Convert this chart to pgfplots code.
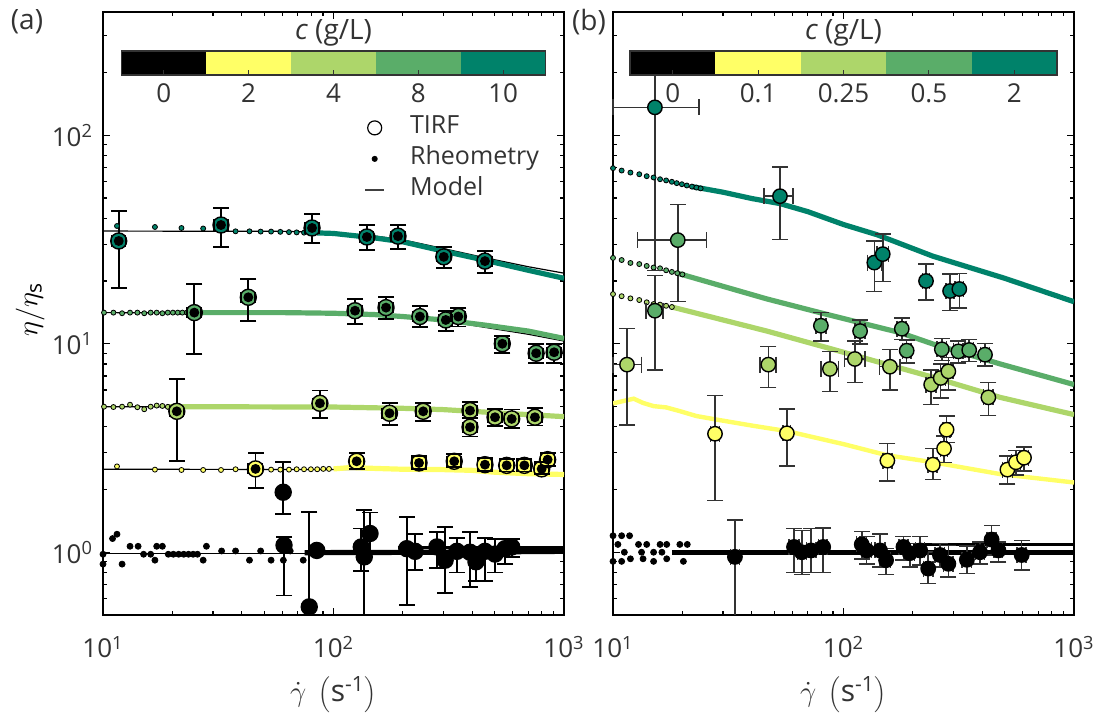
\documentclass[border=0pt]{standalone}
\usepackage{fontspec}
\setmainfont{Open Sans}
\usepackage{pgfplots}
\usepackage{pgfplotstable}
\pgfplotsset{compat=1.18}

\definecolor{cA}{HTML}{FFFF66}
\definecolor{cB}{HTML}{ADD66A}
\definecolor{cC}{HTML}{5AAD69}
\definecolor{cD}{HTML}{00826A}
\definecolor{txt}{HTML}{333333}

% ---------- panel (a) TIRF: x, y, lower, upper ----------
\pgfplotstableread{
x y yl yu
11.7 31.1 18.5 43.3
32.5 37.1 29.1 44.8
80.7 35.9 30.4 41.9
139.6 32.5 28.2 37.1
190.5 32.8 28.4 37.1
301 26.1 23.1 29.1
454 24.9 21.9 27.9
}\aD
\pgfplotstableread{
x y yl yu
24.9 14.1 8.93 19.3
42.7 16.7 12.9 20.4
124 14.4 12.4 16.4
169 14.9 13.1 16.7
237 13.5 12.0 15.2
307 13.0 11.5 14.3
348 13.5 12.1 14.8
540 10.0 9.0 10.9
757 9.0 8.1 9.96
906 9.1 8.1 10.0
}\aC
\pgfplotstableread{
x y yl yu
20.9 4.74 2.73 6.8
87.3 5.18 4.41 5.96
175 4.64 4.08 5.18
245 4.74 4.25 5.18
391 4.78 4.42 5.25
391 3.98 3.59 4.40
502 4.44 4.03 4.88
593 4.36 3.96 4.84
748 4.44 4.05 4.9
}\aB
\pgfplotstableread{
x y yl yu
45.9 2.51 2.03 3.0
126 2.73 2.5 3.0
235 2.68 2.50 2.90
334 2.73 2.57 2.95
454 2.63 2.45 2.83
564 2.61 2.44 2.81
673 2.61 2.44 2.81
800 2.51 2.37 2.70
849 2.78 2.6 3.0
}\aA
\pgfplotstableread{
x y yl yu
60.5 1.94 1.52 2.70
61 1.08 0.62 1.18
78.5 0.547 0.3 1.56
84.6 1.02 0.99 1.05
132 1.06 0.81 1.30
136 0.95 0.3 1.59
144 1.23 1.0 1.55
208 1.04 0.56 1.47
226 1.01 0.82 1.22
281 1.06 0.84 1.25
305 0.916 0.64 1.32
343 1.01 0.80 1.17
391 1.0 0.68 1.25
415 0.90 0.73 1.0
454 1.01 0.73 1.17
502 0.98 0.80 1.16
555 1.04 0.88 1.16
593 1.06 0.95 1.16
}\aK

% ---------- panel (b) TIRF ----------
\pgfplotstableread{
x xl xu y yl yu
15.2 10 23.6 136 22.4 252
53 45.2 60.5 51 31.6 70.3
136 127 146 24.5 17.8 31.1
148 140 157 26.9 19.9 33.6
228 220 236 20.0 16.2 24.1
290 278 302 17.9 14.4 21.6
318 305 331 18.3 14.8 21.7
}\bD
\pgfplotstableread{
x xl xu y yl yu
15.2 13.9 16.5 14.4 7.5 21.3
19.1 12.8 25.5 31.4 15.9 46.6
79.8 76 84 12.2 10.3 14.1
118 112 124 11.5 9.96 13.0
179 171 187 11.8 10.5 13.3
188 180 196 9.26 8.1 10.4
267 255 280 9.4 8.3 10.6
315 300 330 9.19 8.1 10.3
351 336 366 9.33 8.2 10.5
411 392 430 8.86 7.8 10.0
}\bC
\pgfplotstableread{
x xl xu y yl yu
11.5 10 13.3 7.94 4.08 11.8
47.2 43.5 51 7.94 6.18 9.68
87.3 80 95 7.57 5.91 9.19
112 101 124 8.45 6.53 10.3
159 143 176 7.76 6.0 9.4
240 228 252 6.37 5.1 7.49
264 252 277 6.85 5.5 8.0
285 271 299 7.37 6.0 8.6
425 405 446 5.53 4.52 6.53
}\bB
\pgfplotstableread{
x xl xu y yl yu
27.7 26.5 29 3.70 1.77 5.64
56.8 54.5 59 3.72 2.59 4.87
155 148 162 2.75 2.19 3.33
244 233 255 2.63 2.23 3.14
273 263 283 3.14 2.69 3.61
280 270 290 3.87 3.36 4.50
514 490 540 2.49 2.12 2.90
560 535 585 2.70 2.34 3.07
607 580 635 2.84 2.45 3.20
}\bA
\pgfplotstableread{
x xl xu y yl yu
33.8 32.3 35.3 0.95 0.3 1.43
61 58 64 1.06 0.80 1.30
65.9 63 69 1.0 0.78 1.27
72.3 69 76 1.02 0.80 1.30
81.6 78 85 1.06 0.80 1.31
120 114 126 1.09 0.93 1.26
126 120 132 1.02 0.88 1.19
144 137 151 1.02 0.85 1.22
153 146 160 0.916 0.78 1.04
182 174 190 1.06 0.92 1.19
194 185 203 0.99 0.85 1.10
215 205 225 1.02 0.87 1.19
233 222 244 0.835 0.71 1.0
262 250 274 0.97 0.85 1.10
285 272 298 0.88 0.76 1.08
343 327 359 0.92 0.79 1.07
391 373 409 1.0 0.88 1.12
439 420 458 1.15 0.97 1.34
470 450 490 1.02 0.90 1.12
593 567 619 0.97 0.82 1.14
}\bK

\pgfplotsset{
  rdot/.style={only marks, mark=*, mark size=1.25pt, mark options={draw=none, fill=#1}, forget plot},
  kdot/.style={only marks, mark=*, mark size=1.5pt, mark options={draw=none, fill=black}, forget plot},
  rline/.style={#1, line width=2.6pt, no marks, forget plot},
  model/.style={black, line width=0.6pt, no marks, forget plot},
  tirfA/.style={only marks, mark=*, mark size=4pt, mark options={draw=black, line width=0.7pt, fill=#1}, forget plot},
  tirfB/.style={only marks, mark=*, mark size=3.6pt, mark options={draw=black, line width=0.7pt, fill=#1}, forget plot},
  capHA/.style={only marks, mark=-, mark size=4pt, black, line width=0.9pt, mark options={draw=black, line width=0.9pt}, forget plot},
  capVA/.style={only marks, mark=|, mark size=2.8pt, black, line width=0.8pt, mark options={draw=black, line width=0.8pt}, forget plot},
  capHB/.style={only marks, mark=-, mark size=4pt, black!80, line width=0.75pt, mark options={draw=black!80, line width=0.75pt}, forget plot},
  capVB/.style={only marks, mark=|, mark size=4pt, black!80, line width=0.75pt, mark options={draw=black!80, line width=0.75pt}, forget plot},
}

\begin{document}
\begin{tikzpicture}
\useasboundingbox (0,0) rectangle (547.5pt,357.5pt);

% ================= panel (a) =================
\begin{axis}[
  xmode=log, ymode=log, scale only axis,
  width=230.5pt, height=301.5pt,
  at={(51.5pt,50pt)}, anchor=south west,
  xmin=10, xmax=1000, ymin=0.5, ymax=390,
  xtick={10,100,1000},
  xticklabels={10\textsuperscript{1},10\textsuperscript{2},10\textsuperscript{3}},
  ytick={1,10,100},
  yticklabels={10\textsuperscript{0},10\textsuperscript{1},10\textsuperscript{2}},
  minor xtick={20,30,40,50,60,70,80,90,200,300,400,500,600,700,800,900},
  minor ytick={0.6,0.7,0.8,0.9,2,3,4,5,6,7,8,9,20,30,40,50,60,70,80,90,200,300},
  tick align=inside,
  major tick length=3.5pt, minor tick length=2pt,
  tick style={black, line width=0.6pt},
  axis line style={black, line width=0.8pt},
  tick label style={font=\fontsize{13}{15}\selectfont, text=txt},
  xticklabel style={yshift=-7pt},
  yticklabel style={xshift=-1.5pt},
  xlabel={$\dot{\gamma}\ \left(\mbox{s\textsuperscript{-1}}\right)$},
  x label style={at={(axis description cs:0.5,-0.132)}, anchor=center, font=\fontsize{15}{17}\selectfont, text=txt},
  ylabel={$\eta/\eta_{\mathrm{s}}$},
  y label style={at={(axis description cs:-0.158,0.506)}, anchor=center, font=\fontsize{15}{17}\selectfont},
  legend style={at={(axis description cs:0.566,0.83)}, anchor=north west, draw=none, fill=none,
    font=\fontsize{12.5}{13}\selectfont, text=txt, row sep=2.5pt, inner sep=0pt,
    nodes={inner ysep=0pt, text height=9.5pt, text depth=3.5pt}},
  legend cell align=left,
]
\addlegendimage{only marks, mark=o, mark size=3.5pt, black, line width=0.6pt}
\addlegendentry{\hspace{10.5pt}TIRF}
\addlegendimage{only marks, mark=*, mark size=1.3pt, black}
\addlegendentry{\hspace{10.5pt}Rheometry}
\addlegendimage{legend image code/.code={\draw[black!75, line width=0.7pt] (0.13cm,0cm) -- (0.47cm,0cm);}}
\addlegendentry{\hspace{10.5pt}Model}

% models
\addplot[model] coordinates {(10,34.7)(60,34.6)(100,34.1)(150,32.9)(200,31.5)(300,28.6)(450,25.9)(700,23.4)(1000,21.8)};
\addplot[model] coordinates {(10,14.1)(100,14.0)(150,13.8)(200,13.5)(300,12.9)(450,12.0)(700,11.1)(1000,10.3)};
\addplot[model] coordinates {(10,4.99)(200,4.93)(400,4.78)(1000,4.48)};
\addplot[model] coordinates {(10,2.50)(300,2.49)(500,2.43)(1000,2.36)};
\addplot[model] coordinates {(10,0.99)(1000,0.99)};

% rheometry c = 10
\addplot[rdot=cD] coordinates {(11.5,36.7)(16.8,36.3)(21.9,35.9)(27.2,35.7)(32.5,35.3)(37.6,34.6)(43.2,34.6)(48.3,34.5)(53.6,34.5)(58.8,34.4)(64.1,34.3)(69.2,34.2)(74.5,34.1)(79.8,34.0)};
\addplot[rline=cD] coordinates {(85,34.0)(100,33.8)(150,32.2)(200,30.8)(300,27.8)(450,25.2)(700,22.5)(1000,20.6)};
% rheometry c = 8
\addplot[rdot=cC] coordinates {(10.1,14.1)(11.1,14.1)(12.1,14.0)(13.1,14.1)(14.1,14.1)(15.1,14.0)(16.1,14.1)(17.1,14.1)(18.1,14.0)(19.1,14.1)(20.1,14.1)(21.1,14.1)(22.1,14.1)(23.1,14.1)};
\addplot[rline=cC] coordinates {(23,14.1)(60,14.1)(100,14.0)(150,13.8)(200,13.5)(300,13.0)(450,12.3)(700,11.5)(1000,10.6)};
% rheometry c = 4
\addplot[rdot=cB] coordinates {(10.1,4.99)(11.1,4.97)(12.1,4.99)(13.1,5.1)(14.1,4.96)(15.1,4.85)(16.1,4.99)(17.1,5.05)(18.1,5.03)(19.1,4.98)};
\addplot[rline=cB] coordinates {(19,4.99)(100,4.97)(200,4.9)(300,4.83)(500,4.67)(700,4.57)(1000,4.47)};
% rheometry c = 2
\addplot[rdot=cA] coordinates {(11.5,2.58)(16.8,2.49)(21.9,2.48)(27.2,2.48)(32.5,2.48)(37.6,2.50)(43.2,2.49)(48.3,2.49)(53.6,2.49)(58.8,2.49)(64.1,2.49)(69.2,2.50)(74.5,2.50)(79.8,2.50)(85,2.50)(90.3,2.51)(95.6,2.51)};
\addplot[rline=cA] coordinates {(100,2.51)(120,2.55)(140,2.53)(200,2.50)(300,2.49)(400,2.47)(500,2.42)(700,2.38)(1000,2.36)};
% rheometry c = 0
\addplot[kdot] coordinates {(10.0,0.978)(10.0,0.877)(11.0,1.163)(11.5,1.22)(12.1,0.877)(13.1,1.068)(14.2,1.068)(15.0,0.978)(16.1,0.978)(16.8,0.916)(17.1,1.068)(18.1,1.068)(19.2,0.978)(20.2,0.978)(21.3,0.978)(22.4,0.978)(23.5,0.978)(24.6,0.978)(25.7,0.978)(27.2,0.916)(28.1,1.068)(32.7,1.014)(37.6,1.014)(43.2,0.916)(48.3,1.014)(53.6,0.916)(60.6,0.916)(64.9,1.014)(73.9,0.916)};
\addplot[rline=black] coordinates {(75,0.995)(300,1.0)(1000,1.01)};
\addplot[black, line width=1.6pt, no marks, forget plot] coordinates {(190,1.05)(1000,1.05)};

% TIRF markers
\addplot[tirfA=cD] table[x=x, y=y] {\aD};
\addplot[tirfA=cC] table[x=x, y=y] {\aC};
\addplot[tirfA=cB] table[x=x, y=y] {\aB};
\addplot[tirfA=cA] table[x=x, y=y] {\aA};
\addplot[tirfA=black] table[x=x, y=y] {\aK};
% error bars on top
\addplot[forget plot, black, line width=0.9pt, only marks, mark=none, error bars/.cd, x dir=both, x explicit, y dir=both, y explicit, error bar style={black, line width=0.9pt}] table[x=x, y=y, x error expr=0.07*\thisrow{x}, y error plus expr=\thisrow{yu}-\thisrow{y}, y error minus expr=\thisrow{y}-\thisrow{yl}] {\aD};
\addplot[forget plot, black, line width=0.9pt, only marks, mark=none, error bars/.cd, x dir=both, x explicit, y dir=both, y explicit, error bar style={black, line width=0.9pt}] table[x=x, y=y, x error expr=0.07*\thisrow{x}, y error plus expr=\thisrow{yu}-\thisrow{y}, y error minus expr=\thisrow{y}-\thisrow{yl}] {\aC};
\addplot[forget plot, black, line width=0.9pt, only marks, mark=none, error bars/.cd, x dir=both, x explicit, y dir=both, y explicit, error bar style={black, line width=0.9pt}] table[x=x, y=y, x error expr=0.07*\thisrow{x}, y error plus expr=\thisrow{yu}-\thisrow{y}, y error minus expr=\thisrow{y}-\thisrow{yl}] {\aB};
\addplot[forget plot, black, line width=0.9pt, only marks, mark=none, error bars/.cd, x dir=both, x explicit, y dir=both, y explicit, error bar style={black, line width=0.9pt}] table[x=x, y=y, x error expr=0.07*\thisrow{x}, y error plus expr=\thisrow{yu}-\thisrow{y}, y error minus expr=\thisrow{y}-\thisrow{yl}] {\aA};
\addplot[forget plot, black, line width=0.9pt, only marks, mark=none, error bars/.cd, y dir=both, y explicit, error bar style={black, line width=0.9pt}] table[x=x, y=y, y error plus expr=\thisrow{yu}-\thisrow{y}, y error minus expr=\thisrow{y}-\thisrow{yl}] {\aK};
% caps
\addplot[capHA] table[x=x, y=yu] {\aD};
\addplot[capHA] table[x=x, y=yl] {\aD};
\addplot[capVA] table[x expr=1.07*\thisrow{x}, y=y] {\aD};
\addplot[capVA] table[x expr=0.93*\thisrow{x}, y=y] {\aD};
\addplot[capHA] table[x=x, y=yu] {\aC};
\addplot[capHA] table[x=x, y=yl] {\aC};
\addplot[capVA] table[x expr=1.07*\thisrow{x}, y=y] {\aC};
\addplot[capVA] table[x expr=0.93*\thisrow{x}, y=y] {\aC};
\addplot[capHA] table[x=x, y=yu] {\aB};
\addplot[capHA] table[x=x, y=yl] {\aB};
\addplot[capVA] table[x expr=1.07*\thisrow{x}, y=y] {\aB};
\addplot[capVA] table[x expr=0.93*\thisrow{x}, y=y] {\aB};
\addplot[capHA] table[x=x, y=yu] {\aA};
\addplot[capHA] table[x=x, y=yl] {\aA};
\addplot[capVA] table[x expr=1.07*\thisrow{x}, y=y] {\aA};
\addplot[capVA] table[x expr=0.93*\thisrow{x}, y=y] {\aA};
\addplot[capHA] table[x=x, y=yu] {\aK};
\addplot[capHA] table[x=x, y=yl] {\aK};

% colour bar
\fill[black] (axis description cs:0.04,0.8955) rectangle (axis description cs:0.224,0.9353);
\fill[cA] (axis description cs:0.224,0.8955) rectangle (axis description cs:0.408,0.9353);
\fill[cB] (axis description cs:0.408,0.8955) rectangle (axis description cs:0.592,0.9353);
\fill[cC] (axis description cs:0.592,0.8955) rectangle (axis description cs:0.776,0.9353);
\fill[cD] (axis description cs:0.776,0.8955) rectangle (axis description cs:0.96,0.9353);
\draw[txt, line width=0.6pt] (axis description cs:0.132,0.8955) -- (axis description cs:0.132,0.903)
  (axis description cs:0.316,0.8955) -- (axis description cs:0.316,0.903)
  (axis description cs:0.5,0.8955) -- (axis description cs:0.5,0.903)
  (axis description cs:0.684,0.8955) -- (axis description cs:0.684,0.903)
  (axis description cs:0.868,0.8955) -- (axis description cs:0.868,0.903);
\draw[txt, line width=0.8pt] (axis description cs:0.04,0.8955) rectangle (axis description cs:0.96,0.9353);
\node[font=\fontsize{13}{15}\selectfont, text=txt] at (axis description cs:0.132,0.865) {0};
\node[font=\fontsize{13}{15}\selectfont, text=txt] at (axis description cs:0.316,0.865) {2};
\node[font=\fontsize{13}{15}\selectfont, text=txt] at (axis description cs:0.5,0.865) {4};
\node[font=\fontsize{13}{15}\selectfont, text=txt] at (axis description cs:0.684,0.865) {8};
\node[font=\fontsize{13}{15}\selectfont, text=txt] at (axis description cs:0.868,0.865) {10};
\node[font=\fontsize{14}{16}\selectfont, text=txt] at (axis description cs:0.5,0.966) {\textit{c} (g/L)};
\end{axis}

% ================= panel (b) =================
\begin{axis}[
  xmode=log, ymode=log, scale only axis,
  width=230.5pt, height=301.5pt,
  at={(306.5pt,50pt)}, anchor=south west,
  xmin=10, xmax=1000, ymin=0.5, ymax=390,
  xtick={10,100,1000},
  xticklabels={10\textsuperscript{1},10\textsuperscript{2},10\textsuperscript{3}},
  ytick={1,10,100},
  yticklabels={},
  minor xtick={20,30,40,50,60,70,80,90,200,300,400,500,600,700,800,900},
  minor ytick={0.6,0.7,0.8,0.9,2,3,4,5,6,7,8,9,20,30,40,50,60,70,80,90,200,300},
  tick align=inside,
  major tick length=3.5pt, minor tick length=2pt,
  tick style={black, line width=0.6pt},
  axis line style={black, line width=0.8pt},
  tick label style={font=\fontsize{13}{15}\selectfont, text=txt},
  xticklabel style={yshift=-7pt},
  xlabel={$\dot{\gamma}\ \left(\mbox{s\textsuperscript{-1}}\right)$},
  x label style={at={(axis description cs:0.5,-0.132)}, anchor=center, font=\fontsize{15}{17}\selectfont, text=txt},
]
% rheometry c = 2
\addplot[rdot=cD] coordinates {(10,69.5)(10.9,67.7)(11.9,66.2)(13,65.0)(14,63.6)(15,62.7)(16,61.5)(17,60.7)(18,59.8)(18.9,58.9)(19.9,58.2)(20.9,57.4)(22,56.7)(23,56.1)(24,55.6)};
\addplot[rline=cD] coordinates {(22,56.7)(30,53.3)(40,49.7)(53,47.0)(70,43.0)(100,37.3)(140,33.3)(244,26.3)(500,20.6)(1000,15.9)};
% rheometry c = 0.5
\addplot[rdot=cC] coordinates {(10,25.8)(10.9,25.2)(11.9,24.4)(13,24.1)(14,23.6)(15,23.2)(16,23.0)(17,22.5)(18,22.1)(19,21.8)(20,21.5)};
\addplot[rline=cC] coordinates {(19,21.8)(46.5,16.4)(79,14.1)(176,11.3)(245,9.96)(478,8.0)(1000,6.37)};
% rheometry c = 0.25
\addplot[rdot=cB] coordinates {(10,17.3)(10.9,16.9)(11.9,16.5)(13,16.2)(14,15.8)(15,15.5)(16,15.4)(17,15.2)(18,15.0)};
\addplot[rline=cB] coordinates {(18,15.0)(46.5,11.5)(90,9.4)(245,6.9)(478,5.53)(1000,4.57)};
% rheometry c = 0.1
\addplot[cA, line width=2.2pt, no marks, forget plot] coordinates {(10,5.17)(11,5.30)(12.3,5.45)(13.5,5.2)(15,5.02)(17,4.95)(19.5,4.75)(23,4.5)(27.7,4.34)(40,4.05)(56.8,3.81)(100,3.3)(154,2.92)(245,2.70)(478,2.37)(1000,2.16)};
% rheometry c = 0
\addplot[kdot] coordinates {(10,1.20)(10.9,1.20)(11.8,1.20)(10.5,1.09)(12.9,1.09)(14.0,1.09)(16.0,1.09)(17.1,1.09)(19.5,1.09)(21.0,1.09)(11.2,1.0)(13.3,1.0)(15.0,1.0)(16.3,1.0)(10.0,0.904)(10.9,0.904)(11.9,0.93)(13.5,0.93)(15.0,0.904)(17.1,0.93)(20.2,0.904)};
\addplot[rline=black] coordinates {(18,0.995)(1000,0.995)};
\addplot[black, line width=1.6pt, no marks, forget plot] coordinates {(200,1.09)(1000,1.09)};

% error bars below markers
\addplot[forget plot, black!80, line width=0.75pt, only marks, mark=none, error bars/.cd, x dir=both, x explicit, y dir=both, y explicit, error bar style={black!80, line width=0.75pt}] table[x=x, y=y, x error plus expr=\thisrow{xu}-\thisrow{x}, x error minus expr=\thisrow{x}-\thisrow{xl}, y error plus expr=\thisrow{yu}-\thisrow{y}, y error minus expr=\thisrow{y}-\thisrow{yl}] {\bD};
\addplot[forget plot, black!80, line width=0.75pt, only marks, mark=none, error bars/.cd, x dir=both, x explicit, y dir=both, y explicit, error bar style={black!80, line width=0.75pt}] table[x=x, y=y, x error plus expr=\thisrow{xu}-\thisrow{x}, x error minus expr=\thisrow{x}-\thisrow{xl}, y error plus expr=\thisrow{yu}-\thisrow{y}, y error minus expr=\thisrow{y}-\thisrow{yl}] {\bC};
\addplot[forget plot, black!80, line width=0.75pt, only marks, mark=none, error bars/.cd, x dir=both, x explicit, y dir=both, y explicit, error bar style={black!80, line width=0.75pt}] table[x=x, y=y, x error plus expr=\thisrow{xu}-\thisrow{x}, x error minus expr=\thisrow{x}-\thisrow{xl}, y error plus expr=\thisrow{yu}-\thisrow{y}, y error minus expr=\thisrow{y}-\thisrow{yl}] {\bB};
\addplot[forget plot, black!80, line width=0.75pt, only marks, mark=none, error bars/.cd, x dir=both, x explicit, y dir=both, y explicit, error bar style={black!80, line width=0.75pt}] table[x=x, y=y, x error plus expr=\thisrow{xu}-\thisrow{x}, x error minus expr=\thisrow{x}-\thisrow{xl}, y error plus expr=\thisrow{yu}-\thisrow{y}, y error minus expr=\thisrow{y}-\thisrow{yl}] {\bA};
\addplot[forget plot, black!80, line width=0.75pt, only marks, mark=none, error bars/.cd, x dir=both, x explicit, y dir=both, y explicit, error bar style={black!80, line width=0.75pt}] table[x=x, y=y, x error plus expr=\thisrow{xu}-\thisrow{x}, x error minus expr=\thisrow{x}-\thisrow{xl}, y error plus expr=\thisrow{yu}-\thisrow{y}, y error minus expr=\thisrow{y}-\thisrow{yl}] {\bK};
% caps
\addplot[capHB] table[x=x, y=yu] {\bD};
\addplot[capHB] table[x=x, y=yl] {\bD};
\addplot[capVB] table[x=xl, y=y] {\bD};
\addplot[capVB] table[x=xu, y=y] {\bD};
\addplot[capHB] table[x=x, y=yu] {\bC};
\addplot[capHB] table[x=x, y=yl] {\bC};
\addplot[capVB] table[x=xl, y=y] {\bC};
\addplot[capVB] table[x=xu, y=y] {\bC};
\addplot[capHB] table[x=x, y=yu] {\bB};
\addplot[capHB] table[x=x, y=yl] {\bB};
\addplot[capVB] table[x=xl, y=y] {\bB};
\addplot[capVB] table[x=xu, y=y] {\bB};
\addplot[capHB] table[x=x, y=yu] {\bA};
\addplot[capHB] table[x=x, y=yl] {\bA};
\addplot[capVB] table[x=xl, y=y] {\bA};
\addplot[capVB] table[x=xu, y=y] {\bA};
\addplot[capHB] table[x=x, y=yu] {\bK};
\addplot[capHB] table[x=x, y=yl] {\bK};
\addplot[capVB] table[x=xl, y=y] {\bK};
\addplot[capVB] table[x=xu, y=y] {\bK};
% markers on top
\addplot[tirfB=cD] table[x=x, y=y] {\bD};
\addplot[tirfB=cC] table[x=x, y=y] {\bC};
\addplot[tirfB=cB] table[x=x, y=y] {\bB};
\addplot[tirfB=cA] table[x=x, y=y] {\bA};
\addplot[tirfB=black] table[x=x, y=y] {\bK};

% colour bar
\fill[black] (axis description cs:0.037,0.8955) rectangle (axis description cs:0.2222,0.9353);
\fill[cA] (axis description cs:0.2222,0.8955) rectangle (axis description cs:0.4074,0.9353);
\fill[cB] (axis description cs:0.4074,0.8955) rectangle (axis description cs:0.5926,0.9353);
\fill[cC] (axis description cs:0.5926,0.8955) rectangle (axis description cs:0.7778,0.9353);
\fill[cD] (axis description cs:0.7778,0.8955) rectangle (axis description cs:0.963,0.9353);
\draw[txt, line width=0.6pt] (axis description cs:0.1296,0.8955) -- (axis description cs:0.1296,0.903)
  (axis description cs:0.3148,0.8955) -- (axis description cs:0.3148,0.903)
  (axis description cs:0.5,0.8955) -- (axis description cs:0.5,0.903)
  (axis description cs:0.6852,0.8955) -- (axis description cs:0.6852,0.903)
  (axis description cs:0.8704,0.8955) -- (axis description cs:0.8704,0.903);
\draw[txt, line width=0.8pt] (axis description cs:0.037,0.8955) rectangle (axis description cs:0.963,0.9353);
\node[font=\fontsize{13}{15}\selectfont, text=txt] at (axis description cs:0.1296,0.865) {0};
\node[font=\fontsize{13}{15}\selectfont, text=txt] at (axis description cs:0.3148,0.865) {0.1};
\node[font=\fontsize{13}{15}\selectfont, text=txt] at (axis description cs:0.5,0.865) {0.25};
\node[font=\fontsize{13}{15}\selectfont, text=txt] at (axis description cs:0.6852,0.865) {0.5};
\node[font=\fontsize{13}{15}\selectfont, text=txt] at (axis description cs:0.8704,0.865) {2};
\node[font=\fontsize{14}{16}\selectfont, text=txt] at (axis description cs:0.5,0.966) {\textit{c} (g/L)};
\end{axis}

\node[font=\fontsize{14}{16}\selectfont, text=txt] at (13.5pt,346.5pt) {(a)};
\node[font=\fontsize{14}{16}\selectfont, text=txt] at (294.5pt,346.5pt) {(b)};
\end{tikzpicture}
\end{document}
